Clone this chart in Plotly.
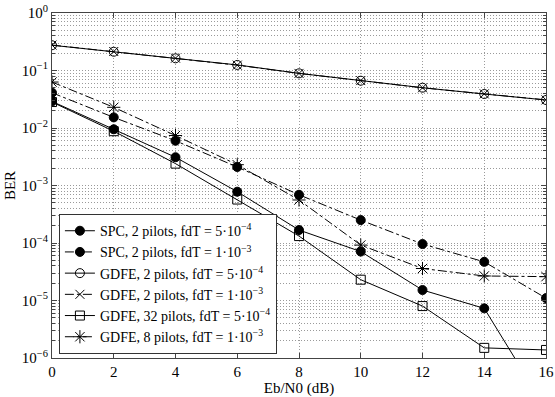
import plotly.graph_objects as go

ebn0 = [0, 2, 4, 6, 8, 10, 12, 14, 16]

spc_2p_5e4 = [0.029, 0.0095, 0.0031, 7.8e-4, 1.68e-4, 7.1e-5, 1.52e-5, 7.3e-6, 1.3e-7]
spc_2p_1e3 = [0.041, 0.0153, 0.006, 0.0021, 6.9e-4, 2.5e-4, 9.6e-5, 4.7e-5, 1.1e-5]
gdfe_2p_5e4 = [0.275, 0.212, 0.163, 0.125, 0.0893, 0.0665, 0.0502, 0.039, 0.0307]
gdfe_2p_1e3 = [0.277, 0.214, 0.164, 0.124, 0.0890, 0.0668, 0.0500, 0.0392, 0.0308]
gdfe_32p_5e4 = [0.0283, 0.0088, 0.0024, 5.7e-4, 1.32e-4, 2.3e-5, 8.0e-6, 1.5e-6, 1.38e-6]
gdfe_8p_1e3 = [0.063, 0.0229, 0.0074, 0.0023, 5.6e-4, 9.2e-5, 3.6e-5, 2.67e-5, 2.6e-5]

names = [
    "SPC, 2 pilots, fdT = 5·10<sup>−4</sup>",
    "SPC, 2 pilots, fdT = 1·10<sup>−3</sup>",
    "GDFE, 2 pilots, fdT = 5·10<sup>−4</sup>",
    "GDFE, 2 pilots, fdT = 1·10<sup>−3</sup>",
    "GDFE, 32 pilots, fdT = 5·10<sup>−4</sup>",
    "GDFE, 8 pilots, fdT = 1·10<sup>−3</sup>",
]
series = [spc_2p_5e4, spc_2p_1e3, gdfe_2p_5e4, gdfe_2p_1e3, gdfe_32p_5e4, gdfe_8p_1e3]
dashes = ["solid", "dashdot", "solid", "dashdot", "solid", "dashdot"]
symbols = ["circle", "circle", "circle-open", "x-thin-open", "square-open", "asterisk-open"]
sizes = [9, 9, 9, 9, 9, 11]

ytick_vals = [1e-6, 1e-5, 1e-4, 1e-3, 1e-2, 1e-1, 1]
ytick_text = ["10<sup>−6</sup>", "10<sup>−5</sup>", "10<sup>−4</sup>", "10<sup>−3</sup>",
              "10<sup>−2</sup>", "10<sup>−1</sup>", "10<sup>0</sup>"]

fig = go.Figure()
for nm, ys, d, s, sz in zip(names, series, dashes, symbols, sizes):
    fig.add_trace(go.Scatter(
        x=ebn0, y=ys, name=nm, mode="lines+markers",
        line=dict(color="black", width=1, dash=d),
        marker=dict(symbol=s, size=sz, color="black", line=dict(color="black", width=1)),
    ))

font_family = "Liberation Serif, Times New Roman, serif"
grid_dash = "1px,2px"
grid_col = "#9a9a9a"
fig.update_layout(
    width=555, height=397,
    margin=dict(l=52, r=9, t=13, b=39, autoexpand=False),
    paper_bgcolor="white", plot_bgcolor="white",
    font=dict(family=font_family, size=15, color="black"),
    showlegend=True,
    legend=dict(
        x=0.014, y=0.417, xanchor="left", yanchor="top",
        bgcolor="white", bordercolor="#333333", borderwidth=1,
        font=dict(family=font_family, size=14, color="black"),
        tracegroupgap=0, itemwidth=30,
    ),
)
fig.update_xaxes(
    range=[0, 16], tickvals=ebn0, ticks="inside", ticklen=5, tickcolor="#444444",
    showline=True, linecolor="#444444", linewidth=1, mirror="ticks",
    showgrid=True, gridcolor=grid_col, griddash=grid_dash, gridwidth=1,
    zeroline=False, automargin=False,
    title=dict(text="Eb/N0 (dB)", standoff=0, font=dict(size=15)),
    tickfont=dict(size=15),
)
fig.update_yaxes(
    type="log", range=[-6, 0], tickvals=ytick_vals, ticktext=ytick_text,
    ticks="inside", ticklen=5, tickcolor="#444444",
    showline=True, linecolor="#444444", linewidth=1, mirror="ticks",
    showgrid=True, gridcolor=grid_col, griddash=grid_dash, gridwidth=1,
    minor=dict(dtick="D1", showgrid=True, gridcolor=grid_col, griddash=grid_dash,
               ticks="inside", ticklen=3, tickcolor="#444444"),
    zeroline=False, automargin=False,
    title=dict(text="BER", standoff=2, font=dict(size=15)),
    tickfont=dict(size=15),
)

fig.write_html("out.html", config={"displayModeBar": False},
               post_script="document.body.style.margin='0';")
